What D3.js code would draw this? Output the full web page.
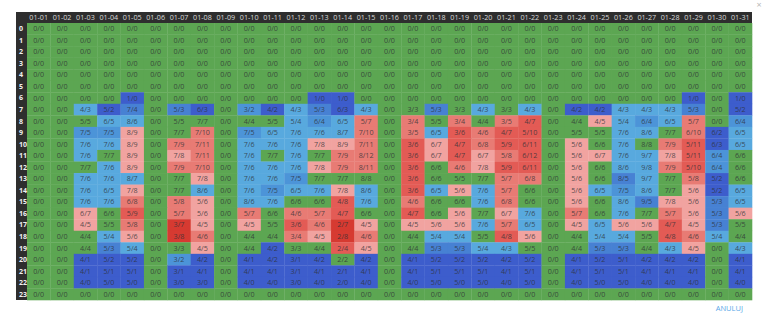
<!DOCTYPE html>
<html>
<head>
<meta charset="utf-8">
<script src="https://cdn.jsdelivr.net/npm/d3@7"></script>
<style>
  html, body { margin: 0; padding: 0; background: #fff; }
  svg { display: block; font-family: "Open Sans", "DejaVu Sans", sans-serif; }
</style>
</head>
<body>
<svg id="chart" width="768" height="325"></svg>
<script>
// Days of January shown as columns, hours of the day as rows
const days = ["01-01","01-02","01-03","01-04","01-05","01-06","01-07","01-08","01-09","01-10",
  "01-11","01-12","01-13","01-14","01-15","01-16","01-17","01-18","01-19","01-20",
  "01-21","01-22","01-23","01-24","01-25","01-26","01-27","01-28","01-29","01-30","01-31"];
const hours = [0,1,2,3,4,5,6,7,8,9,10,11,12,13,14,15,16,17,18,19,20,21,22,23];

// Assigned staff per hour (rows) and day (columns)
const assigned = [
  [0,0,0,0,0,0,0,0,0,0, 0,0,0,0,0,0,0,0,0,0, 0,0,0,0,0,0,0,0,0,0,0],
  [0,0,0,0,0,0,0,0,0,0, 0,0,0,0,0,0,0,0,0,0, 0,0,0,0,0,0,0,0,0,0,0],
  [0,0,0,0,0,0,0,0,0,0, 0,0,0,0,0,0,0,0,0,0, 0,0,0,0,0,0,0,0,0,0,0],
  [0,0,0,0,0,0,0,0,0,0, 0,0,0,0,0,0,0,0,0,0, 0,0,0,0,0,0,0,0,0,0,0],
  [0,0,0,0,0,0,0,0,0,0, 0,0,0,0,0,0,0,0,0,0, 0,0,0,0,0,0,0,0,0,0,0],
  [0,0,0,0,0,0,0,0,0,0, 0,0,0,0,0,0,0,0,0,0, 0,0,0,0,0,0,0,0,0,0,0],
  [0,0,0,0,1,0,0,0,0,0, 0,0,1,1,0,0,0,0,0,0, 0,0,0,0,0,0,0,0,1,0,1],
  [0,0,4,5,7,0,5,6,0,3, 4,4,5,6,4,0,3,5,3,4, 3,4,0,4,4,4,4,4,5,0,5],
  [0,0,5,6,8,0,5,7,0,4, 5,5,6,6,5,0,3,5,3,4, 3,4,0,4,4,5,6,6,5,0,6],
  [0,0,7,7,8,0,7,7,0,7, 6,7,7,8,7,0,3,6,3,4, 4,5,0,5,5,7,8,7,6,6,6],
  [0,0,7,7,8,0,7,7,0,7, 7,7,7,8,7,0,3,6,4,6, 5,6,0,5,6,7,8,7,5,6,6],
  [0,0,7,7,8,0,7,7,0,7, 7,7,7,7,8,0,3,6,4,6, 5,6,0,5,6,7,9,7,5,6,6],
  [0,0,7,7,8,0,7,7,0,7, 7,7,7,7,8,0,3,6,4,7, 5,6,0,5,6,8,9,7,5,6,6],
  [0,0,7,7,8,0,7,7,0,7, 7,7,7,7,8,0,3,6,5,7, 5,6,0,5,6,8,9,7,5,5,6],
  [0,0,7,6,7,0,7,8,0,7, 7,6,7,7,8,0,3,6,5,7, 5,6,0,5,6,7,8,7,5,5,6],
  [0,0,7,7,6,0,5,5,0,8, 7,6,6,4,7,0,4,6,6,7, 6,6,0,5,6,8,9,7,5,5,6],
  [0,0,6,6,5,0,5,5,0,5, 6,4,5,4,6,0,4,6,5,7, 6,7,0,5,6,7,7,5,5,5,5],
  [0,0,4,5,5,0,3,4,0,4, 5,3,4,2,4,0,4,5,5,7, 5,6,0,4,6,5,5,4,4,5,5],
  [0,0,4,5,5,0,3,4,0,4, 4,3,4,2,4,0,4,5,5,5, 4,5,0,4,5,5,5,4,4,5,4],
  [0,0,4,5,5,0,3,4,0,4, 4,3,4,2,4,0,4,5,5,5, 4,5,0,4,5,5,4,4,4,0,4],
  [0,0,4,5,5,0,3,4,0,4, 4,3,4,2,4,0,4,5,5,5, 4,5,0,4,5,5,4,4,4,0,4],
  [0,0,4,5,5,0,3,4,0,4, 4,3,4,2,4,0,4,5,5,5, 4,5,0,4,5,5,4,4,4,0,4],
  [0,0,4,5,5,0,3,3,0,4, 4,3,4,2,4,0,4,5,5,5, 4,5,0,4,5,5,4,4,4,0,4],
  [0,0,0,0,0,0,0,0,0,0, 0,0,0,0,0,0,0,0,0,0, 0,0,0,0,0,0,0,0,0,0,0]
];

// Required staff per hour (rows) and day (columns)
const required = [
  [0,0,0,0,0,0,0,0,0,0, 0,0,0,0,0,0,0,0,0,0, 0,0,0,0,0,0,0,0,0,0,0],
  [0,0,0,0,0,0,0,0,0,0, 0,0,0,0,0,0,0,0,0,0, 0,0,0,0,0,0,0,0,0,0,0],
  [0,0,0,0,0,0,0,0,0,0, 0,0,0,0,0,0,0,0,0,0, 0,0,0,0,0,0,0,0,0,0,0],
  [0,0,0,0,0,0,0,0,0,0, 0,0,0,0,0,0,0,0,0,0, 0,0,0,0,0,0,0,0,0,0,0],
  [0,0,0,0,0,0,0,0,0,0, 0,0,0,0,0,0,0,0,0,0, 0,0,0,0,0,0,0,0,0,0,0],
  [0,0,0,0,0,0,0,0,0,0, 0,0,0,0,0,0,0,0,0,0, 0,0,0,0,0,0,0,0,0,0,0],
  [0,0,0,0,0,0,0,0,0,0, 0,0,0,0,0,0,0,0,0,0, 0,0,0,0,0,0,0,0,0,0,0],
  [0,0,3,2,4,0,3,3,0,2, 2,3,3,3,3,0,3,3,3,3, 3,3,0,2,2,3,3,3,3,0,2],
  [0,0,5,5,6,0,5,7,0,4, 5,4,4,5,7,0,4,5,4,4, 5,7,0,4,5,4,4,5,7,0,4],
  [0,0,5,5,9,0,7,10,0,5, 5,6,6,7,10,0,5,5,6,6, 7,10,0,5,5,6,6,7,10,2,5],
  [0,0,6,6,9,0,9,11,0,6, 6,6,8,9,11,0,6,7,7,8, 9,11,0,6,6,6,8,9,11,3,5],
  [0,0,6,7,9,0,8,11,0,6, 7,6,7,9,12,0,6,7,7,7, 8,12,0,6,7,6,7,8,11,4,6],
  [0,0,7,6,9,0,9,10,0,6, 6,6,8,9,11,0,6,6,6,8, 9,11,0,6,6,6,8,9,10,4,6],
  [0,0,6,6,7,0,7,8,0,6, 6,5,7,7,8,0,6,6,5,7, 7,8,0,6,6,5,7,7,8,2,6],
  [0,0,6,5,8,0,7,6,0,6, 5,5,6,8,6,0,6,5,6,6, 7,6,0,6,5,5,6,7,6,2,5],
  [0,0,6,6,8,0,8,6,0,6, 6,6,6,8,6,0,6,6,6,6, 8,6,0,6,6,6,5,8,6,3,5],
  [0,0,7,6,9,0,7,6,0,7, 6,6,7,7,6,0,7,6,6,7, 7,6,0,7,6,6,7,7,6,3,6],
  [0,0,5,5,8,0,7,5,0,5, 5,6,6,7,5,0,5,6,6,6, 7,5,0,5,5,6,6,7,5,3,5],
  [0,0,4,4,6,0,8,6,0,4, 4,4,5,8,6,0,4,4,4,5, 8,6,0,4,4,4,5,8,6,4,4],
  [0,0,4,3,4,0,3,5,0,4, 2,3,4,4,5,0,4,3,3,4, 3,5,0,4,3,3,4,3,5,0,3],
  [0,0,1,2,2,0,2,2,0,1, 2,1,2,2,2,0,1,2,2,2, 2,2,0,1,2,1,2,2,2,0,1],
  [0,0,1,1,1,0,1,1,0,1, 1,1,1,1,1,0,1,1,1,1, 1,1,0,1,1,1,1,1,1,0,1],
  [0,0,0,0,0,0,0,0,0,0, 0,0,0,0,0,0,0,0,0,0, 0,0,0,0,0,0,0,0,0,0,0],
  [0,0,0,0,0,0,0,0,0,0, 0,0,0,0,0,0,0,0,0,0, 0,0,0,0,0,0,0,0,0,0,0]
];

// Fill colours: balanced, over-staffed (blue shades), under-staffed (red shades)
const balancedColor = "#5ca652";
const overColors = ["#58a9de", "#4c94d8", "#4781d3", "#3d5dcc"];
const underColors = ["#d63a31", "#e35b55", "#e87b74", "#f1a3a0"];

const overScale = d3.scaleThreshold().domain([1.36, 1.6, 1.95]).range(overColors);
const underScale = d3.scaleThreshold().domain([0.45, 0.6, 0.795]).range(underColors);

function cellColor(a, r) {
  if (a === r) return balancedColor;
  if (r === 0) return overColors[3];
  const q = a / r;
  return q > 1 ? overScale(q) : underScale(q);
}

const svg = d3.select("#chart");

const gridLeft = 16, gridTop = 12, labelW = 11, headerH = 11, gridRight = 752, gridBottom = 300;

const x = d3.scaleBand().domain(days).range([gridLeft + labelW, gridRight]).padding(0);
const y = d3.scaleBand().domain(hours).range([gridTop + headerH, gridBottom]).padding(0);

const cells = [];
hours.forEach((h, i) => days.forEach((d, j) => {
  cells.push({ day: d, hour: h, a: assigned[i][j], r: required[i][j] });
}));

// dark frame for header row and hour column
svg.append("rect")
  .attr("x", gridLeft).attr("y", gridTop)
  .attr("width", gridRight - gridLeft).attr("height", headerH)
  .attr("fill", "#2e2e2e");
svg.append("rect")
  .attr("x", gridLeft).attr("y", gridTop)
  .attr("width", labelW).attr("height", gridBottom - gridTop)
  .attr("fill", "#2e2e2e");

const g = svg.append("g");
g.selectAll("rect.cell")
  .data(cells)
  .join("rect")
  .attr("class", "cell")
  .attr("x", d => x(d.day))
  .attr("y", d => y(d.hour))
  .attr("width", x.bandwidth() + 0.3)
  .attr("height", y.bandwidth() + 0.3)
  .attr("fill", d => cellColor(d.a, d.r));

g.selectAll("text.val")
  .data(cells)
  .join("text")
  .attr("class", "val")
  .attr("x", d => x(d.day) + x.bandwidth() / 2)
  .attr("y", d => y(d.hour) + y.bandwidth() / 2)
  .attr("dy", "0.35em")
  .attr("text-anchor", "middle")
  .attr("font-size", "7.2px")
  .attr("fill", "#2f3136")
  .attr("fill-opacity", 0.8)
  .text(d => `${d.a}/${d.r}`);

// column headers
svg.selectAll("text.day")
  .data(days)
  .join("text")
  .attr("class", "day")
  .attr("x", d => x(d) + x.bandwidth() / 2)
  .attr("y", gridTop + headerH / 2)
  .attr("dy", "0.35em")
  .attr("text-anchor", "middle")
  .attr("font-size", "7.2px")
  .attr("fill", "#d8d8d8")
  .text(d => d);

// hour labels
svg.selectAll("text.hour")
  .data(hours)
  .join("text")
  .attr("class", "hour")
  .attr("x", gridLeft + 3)
  .attr("y", d => y(d) + y.bandwidth() / 2)
  .attr("dy", "0.35em")
  .attr("font-size", "7px")
  .attr("font-weight", "bold")
  .attr("fill", "#f0f0f0")
  .text(d => d);

// close mark and cancel button
svg.append("text")
  .attr("x", 759).attr("y", 8)
  .attr("text-anchor", "middle")
  .attr("font-size", "9px")
  .attr("fill", "#b8b8b8")
  .text("×");

svg.append("text")
  .attr("x", 743).attr("y", 311)
  .attr("text-anchor", "end")
  .attr("font-size", "7.5px")
  .attr("fill", "#5aa8e8")
  .text("ANULUJ");
</script>
</body>
</html>
